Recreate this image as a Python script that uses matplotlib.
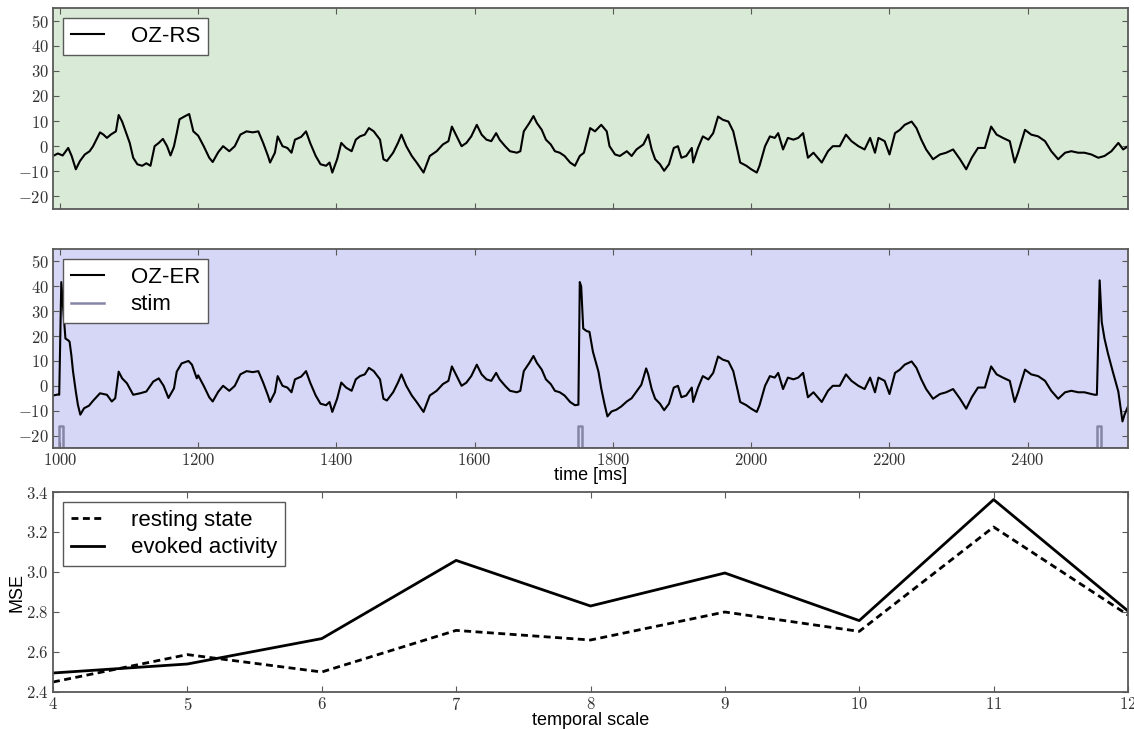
import numpy as np
import matplotlib
matplotlib.use("Agg")
import matplotlib.pyplot as plt
from matplotlib.ticker import FuncFormatter

# resting-state trace OZ-RS (time in ms, amplitude)
rs_t = [990, 997, 1004, 1012, 1017, 1023, 1029, 1036, 1043, 1048, 1054, 1058, 1063,
        1068, 1074, 1081, 1085, 1090, 1095, 1101, 1106, 1112, 1119, 1125, 1131, 1137,
        1143, 1149, 1155, 1160, 1165, 1169, 1173, 1180, 1187, 1193, 1200, 1208, 1216,
        1221, 1229, 1236, 1245, 1253, 1261, 1270, 1279, 1287, 1294, 1301, 1304, 1311,
        1315, 1322, 1329, 1335, 1340, 1349, 1356, 1362, 1370, 1377, 1385, 1390, 1394,
        1401, 1407, 1414, 1422, 1428, 1434, 1441, 1447, 1454,
        1463, 1468, 1473, 1482, 1489, 1494, 1501, 1509, 1516, 1526, 1535, 1545, 1554,
        1562, 1567, 1574, 1581, 1588, 1595, 1603, 1610, 1617, 1624, 1631, 1636, 1644,
        1651, 1661, 1666, 1671, 1679, 1685, 1690, 1697, 1703, 1710, 1716, 1723, 1730,
        1738, 1745, 1752, 1758, 1767, 1774, 1783, 1791, 1795, 1803, 1810, 1820, 1827,
        1834, 1844, 1851, 1856, 1861, 1868, 1874, 1881, 1888, 1894, 1899, 1906, 1914,
        1916, 1923, 1930, 1938, 1945, 1952, 1959, 1967, 1974, 1981, 1984, 1993, 2000,
        2008,
        2012, 2020, 2027, 2034, 2039, 2046, 2053, 2061, 2068, 2075, 2082, 2090, 2102,
        2111, 2118, 2128, 2137, 2145, 2155, 2164, 2172, 2179, 2184, 2193, 2200, 2208,
        2215, 2222, 2232, 2239, 2246, 2253, 2263, 2273, 2282, 2292, 2302, 2311, 2319,
        2328, 2338, 2347, 2355, 2364, 2374, 2381, 2386, 2396, 2405, 2415, 2425, 2434,
        2444, 2454, 2463, 2473, 2482, 2492, 2502, 2511, 2521, 2531, 2538, 2545]
rs_v = [-3.9, -2.9, -3.7, -0.7, -3.9, -9.2, -5.9, -3.3, -2.0, 0.0, 3.3, 5.5, 4.6,
        3.3, 4.7, 5.9, 12.4, 9.8, 5.9, 1.3, -4.6, -7.2, -7.8, -6.8, -7.8, 0.0,
        1.3, 2.9, 0.0, -3.7, 0.0, 5.2, 10.7, 11.8, 12.8, 5.9, 4.2, 0.0, -4.6,
        -6.3, -2.4, 0.0, -2.0, 0.0, 4.6, 5.9, 5.5, 5.9, 1.3, -3.9, -6.5, -2.6,
        3.9, 0.0, -0.7, -2.6, 2.6, 3.7, 5.9, 1.3, -3.9, -7.2, -7.8, -6.5, -10.5,
        -5.2, 1.3, -0.7, -2.0, 2.6, 3.9, 4.6, 7.2, 5.9,
        2.6, -5.2, -5.9, -2.6, 1.3, 4.6, 0.0, -3.9, -6.5, -10.5, -3.9, -2.0, 0.7,
        2.0, 7.8, 3.9, 0.0, 1.3, 3.9, 8.5, 4.6, 2.6, 2.0, 5.2, 2.6, 0.0,
        -2.0, -2.6, -2.0, 5.9, 9.2, 12.0, 9.2, 6.5, 2.6, 0.7, -2.0, -2.6, -3.9,
        -6.5, -7.8, -3.9, -2.6, 7.2, 5.9, 8.5, 5.9, 0.0, -3.3, -3.9, -2.0, -3.9,
        -1.3, 0.7, 4.6, -1.3, -5.2, -7.2, -9.8, -7.2, -0.7, 0.0, -4.6, -3.9, -0.7,
        -6.5, -0.7, 3.9, 2.6, 5.2, 11.8, 10.5, 9.8, 5.9, -2.6, -6.5, -7.8, -9.2,
        -10.5,
        -7.8, 0.0, 3.9, 3.3, 5.2, -1.3, 3.3, 2.6, 3.3, 5.2, -4.6, -2.6, -6.5,
        -2.0, 0.0, 0.0, 4.6, 2.0, 0.0, -1.3, 3.3, -2.6, 3.3, 2.0, -3.3, 5.2,
        6.5, 8.5, 9.8, 7.2, 2.6, -1.3, -5.2, -3.3, -2.6, -1.3, -5.2, -9.2, -4.6,
        -0.7, -0.7, 7.8, 4.6, 3.3, 2.0, -6.5, -2.6, 6.5, 4.6, 3.9, 2.0, -2.0,
        -5.2, -2.6, -2.0, -2.6, -2.6, -3.3, -4.6, -3.9, -2.0, 1.3, -1.3, 0.0]

# evoked trace OZ-ER: same as OZ-RS except around the three stimuli
er1_t = [997, 999, 1002, 1005, 1008, 1012, 1014, 1016.5, 1019, 1023, 1026, 1029.5,
         1035, 1042, 1048, 1058, 1068, 1075, 1080, 1085, 1090, 1097, 1106, 1116,
         1125, 1135, 1143, 1150, 1157, 1165, 1169, 1176, 1186, 1191, 1198]
er1_v = [-3.5, -3.6, 41.7, 30.0, 19.0, 18.3, 17.7, 12.4, 5.7, -2.3, -7.6, -11.6,
         -9.0, -8.0, -6.0, -3.0, -3.6, -6.3, -5.0, 5.7, 3.0, 1.0, -3.6, -3.0,
         -2.3, 1.7, 3.0, 0.0, -4.9, -1.0, 5.7, 9.0, 10.0, 8.5, 3.0]
er2_t = [1750, 1752, 1754, 1757, 1762, 1766, 1771, 1779, 1783, 1788, 1792, 1798,
         1805, 1812, 1820, 1827, 1834, 1841, 1848]
er2_v = [-7.6, 41.7, 40.0, 23.0, 22.0, 21.7, 13.7, 5.7, -1.0, -7.6, -12.3, -10.3,
         -9.6, -8.3, -6.3, -5.0, -2.3, 0.4, 7.0]
er3_t = [2497, 2500, 2502, 2504, 2507, 2511, 2516, 2523, 2531, 2537, 2540, 2545]
er3_v = [-3.6, -3.6, 20.0, 42.4, 25.7, 19.0, 13.0, 5.7, -2.3, -14.3, -11.6, -8.3]

# stimulus pulses
stim_t = [990, 998, 998, 1004, 1004, 1749, 1749, 1755, 1755, 2500, 2500, 2506, 2506, 2545]
stim_v = [-25, -25, -16, -16, -25, -25, -16, -16, -25, -25, -16, -16, -25, -25]

# multiscale entropy
scales = [4, 5, 6, 7, 8, 9, 10, 11, 12]
mse_rest = [2.45, 2.587, 2.50, 2.708, 2.66, 2.80, 2.703, 3.225, 2.785]
mse_evoked = [2.495, 2.54, 2.667, 3.058, 2.83, 2.995, 2.757, 3.362, 2.805]

rs_t = np.array(rs_t, dtype=float)
rs_v = np.array(rs_v)
keep = ~(((rs_t > 990) & (rs_t < 1199)) | ((rs_t > 1748) & (rs_t < 1850)) | (rs_t > 2495))
er_t = np.concatenate([rs_t[keep], er1_t, er2_t, er3_t])
er_v = np.concatenate([rs_v[keep], er1_v, er2_v, er3_v])
order = np.argsort(er_t, kind="stable")
er_t, er_v = er_t[order], er_v[order]

plt.rcParams["mathtext.fontset"] = "cm"
plt.rcParams["font.family"] = ["Liberation Sans", "DejaVu Sans"]

spine_col = "0.35"
cm_fmt = FuncFormatter(lambda x, pos: "$%g$" % x)

fig = plt.figure(figsize=(11.34, 7.29), dpi=100)
W, H = 1134.0, 729.0
ax1 = fig.add_axes([53 / W, 1 - 209 / H, 1075 / W, 201 / H])
ax2 = fig.add_axes([53 / W, 1 - 448 / H, 1075 / W, 199 / H])
ax3 = fig.add_axes([53 / W, 1 - 692 / H, 1075 / W, 200 / H])

leg_kw = dict(loc="upper left", fontsize=16, handlelength=1.5, handletextpad=1.2,
              fancybox=False, framealpha=1, edgecolor=spine_col, borderaxespad=0.45,
              borderpad=0.35, labelspacing=0.3)

def style(ax):
    for s in ax.spines.values():
        s.set_color(spine_col)
        s.set_linewidth(1.3)
    ax.tick_params(direction="in", top=True, right=True, length=4, width=0.8,
                   color=spine_col, labelsize=12, labelcolor="0.2", pad=3)

# top: resting state
ax1.set_facecolor("#d9ead6")
ax1.plot(rs_t, rs_v, color="black", lw=1.5, label="OZ-RS")
ax1.set_xlim(990, 2545)
ax1.set_ylim(-25, 55)
ax1.set_yticks(range(-20, 51, 10))
ax1.set_xticks(range(1000, 2401, 200))
ax1.xaxis.set_ticklabels([])
ax1.yaxis.set_major_formatter(cm_fmt)
style(ax1)
ax1.legend(**leg_kw)

# middle: evoked
ax2.set_facecolor("#d6d6f7")
ax2.plot(er_t, er_v, color="black", lw=1.5, label="OZ-ER")
ax2.plot(stim_t, stim_v, color="#8585a5", lw=1.8, label="stim")
ax2.set_xlim(990, 2545)
ax2.set_ylim(-25, 55)
ax2.set_yticks(range(-20, 51, 10))
ax2.set_xticks(range(1000, 2401, 200))
ax2.xaxis.set_major_formatter(cm_fmt)
ax2.yaxis.set_major_formatter(cm_fmt)
ax2.set_xlabel("time [ms]", fontsize=13, labelpad=-1)
style(ax2)
ax2.legend(**leg_kw)

# bottom: MSE
ax3.plot(scales, mse_rest, color="black", lw=2, dashes=(2.5, 1.6), label="resting state")
ax3.plot(scales, mse_evoked, color="black", lw=2, label="evoked activity")
ax3.set_xlim(4, 12)
ax3.set_ylim(2.4, 3.4)
ax3.set_xticks(scales)
ax3.set_yticks([2.4, 2.6, 2.8, 3.0, 3.2, 3.4])
ax3.xaxis.set_major_formatter(cm_fmt)
ax3.yaxis.set_major_formatter(FuncFormatter(lambda x, pos: "$%.1f$" % x))
ax3.set_xlabel("temporal scale", fontsize=13, labelpad=-1)
ax3.set_ylabel("MSE", fontsize=13, labelpad=0)
style(ax3)
ax3.legend(**leg_kw)

fig.savefig("out.png", dpi=100)
